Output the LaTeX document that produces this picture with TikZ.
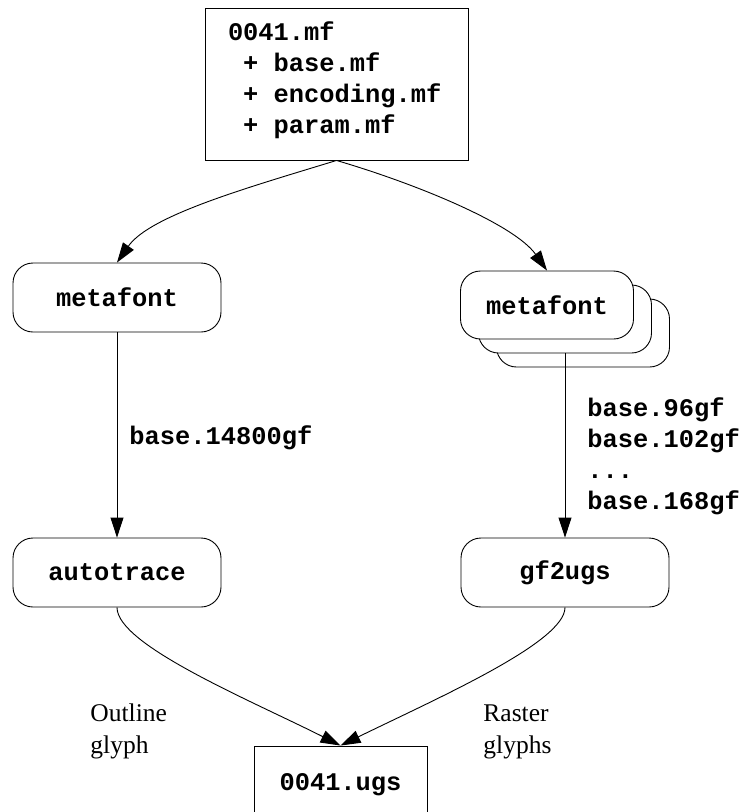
\documentclass[tikz,border=0pt]{standalone}
\usepackage{fontspec}
\setmainfont{Liberation Serif}
\setmonofont{Liberation Mono}
\usetikzlibrary{arrows.meta}
\newcommand\mffont{\fontsize{25.4}{28.5}\selectfont\ttfamily\bfseries}
\newcommand\gffont{\fontsize{25.4}{31}\selectfont\ttfamily\bfseries}
\newcommand\lblfont{\fontsize{25.5}{32}\selectfont}
\newcommand\mfsp{\hphantom{0}}

\begin{document}
\begin{tikzpicture}[x=1pt,y=-1pt,line width=0.9pt,
    proc/.style={draw,rounded corners=20pt,fill=white,minimum width=208pt,
      minimum height=69pt,font=\mffont,inner sep=0pt},
    mfbox/.style={proc,minimum width=173pt,minimum height=68pt},
    filebox/.style={draw,fill=white,font=\mffont,inner sep=0pt},
    >={Triangle[length=20pt,width=13pt]}]
  \path[use as bounding box,clip] (0,0) rectangle (742,812);
  \node[filebox,minimum width=263pt,minimum height=152pt,text width=217pt,align=left,
    font=\gffont,text height=4pt,text depth=92pt] (src) at (336.5,84)
    {0041.mf\\\mfsp+\mfsp base.mf\\\mfsp+\mfsp encoding.mf\\\mfsp+\mfsp param.mf};
  \node[proc] (mfl) at (117,297.5) {metafont};
  \foreach \i/\n in {2/mfc,1/mfb}
    \node[mfbox] (\n) at (547+18*\i,305+14*\i) {};
  \node[mfbox] (mfa) at (547,305) {metafont};
  \node[proc] (at) at (117,572.5) {autotrace};
  \node[proc] (gf) at (565,572.5) {gf2ugs};
  \node[filebox,minimum width=173pt,minimum height=78pt] (ugs) at (340.5,785) {0041.ugs};
  \draw[->] (src.south) .. controls (250,187) and (150,215) .. (mfl.north);
  \draw[->] (src.south) .. controls (420,185) and (515,225) .. (mfa.north);
  \draw[->] (mfl) -- (at);
  \draw[->] (mfb) -- (gf);
  \draw[->] (at.south) .. controls (117,645) and (250,700) .. (ugs.north);
  \draw[->] (gf.south) .. controls (565,642) and (440,697) .. (ugs.north);
  \node[anchor=base west,font=\mffont,inner sep=0pt] (llbl) at (129,444) {base.14800gf};
  \node[anchor=base west,align=left,font=\gffont,inner sep=0pt] (rlbl) at (587,509)
    {base.96gf\\base.102gf\\...\\base.168gf};
  \node[anchor=base west,align=left,font=\lblfont,inner sep=0pt] (olbl) at (90,753) {Outline\\glyph};
  \node[anchor=base west,align=left,font=\lblfont,inner sep=0pt] (rasl) at (483,753) {Raster\\glyphs};
\end{tikzpicture}
\end{document}
